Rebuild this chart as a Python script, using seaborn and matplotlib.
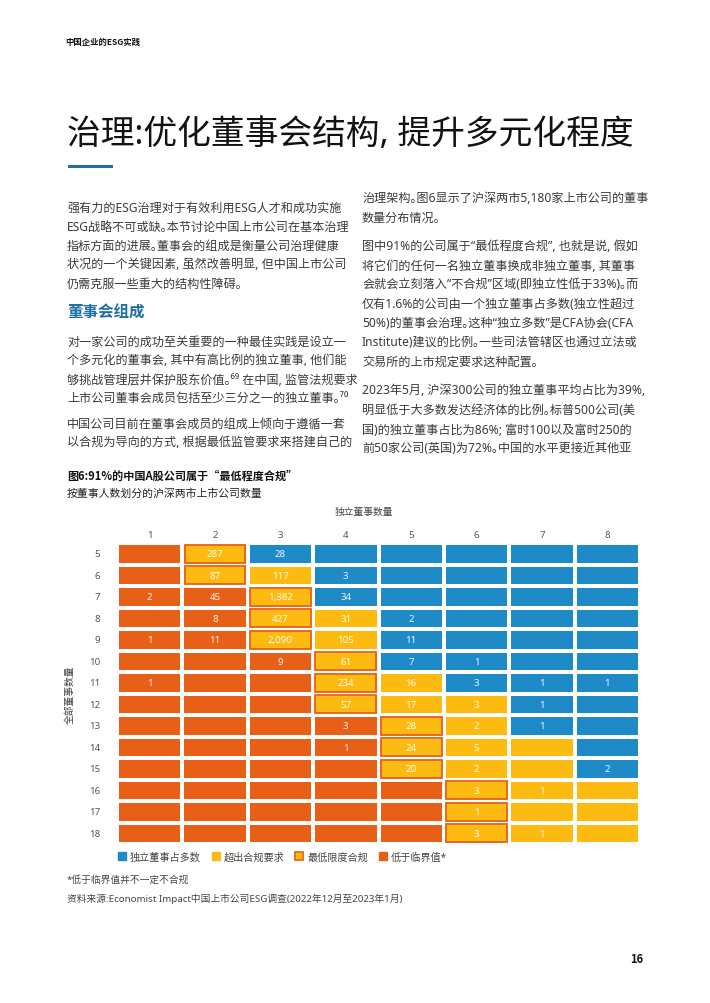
import numpy as np
import pandas as pd
import seaborn as sns
import matplotlib.pyplot as plt
from matplotlib.colors import ListedColormap
from matplotlib.patches import Patch, Rectangle

W, H = 710, 1004

# 独立董事数量 (columns) x 全部董事数量 (rows)
indep_cols = [1, 2, 3, 4, 5, 6, 7, 8]
board_rows = [5, 6, 7, 8, 9, 10, 11, 12, 13, 14, 15, 16, 17, 18]

# B = 独立董事占多数, Y = 超出合规要求, M = 最低限度合规, O = 低于临界值
zone_rows = [
    "OMBBBBBB",
    "OMYBBBBB",
    "OOMBBBBB",
    "OOMYBBBB",
    "OOMYBBBB",
    "OOOMBBBB",
    "OOOMYBBB",
    "OOOMYYBB",
    "OOOOMYBB",
    "OOOOMYYB",
    "OOOOMYYB",
    "OOOOOMYY",
    "OOOOOMYY",
    "OOOOOMYY",
]

count_rows = [
    [None, 287, 28, None, None, None, None, None],
    [None, 87, 117, 3, None, None, None, None],
    [2, 45, 1382, 34, None, None, None, None],
    [None, 8, 427, 31, 2, None, None, None],
    [1, 11, 2090, 105, 11, None, None, None],
    [None, None, 9, 61, 7, 1, None, None],
    [1, None, None, 234, 16, 3, 1, 1],
    [None, None, None, 57, 17, 3, 1, None],
    [None, None, None, 3, 28, 2, 1, None],
    [None, None, None, 1, 24, 5, None, None],
    [None, None, None, None, 20, 2, None, 2],
    [None, None, None, None, None, 3, 1, None],
    [None, None, None, None, None, 1, None, None],
    [None, None, None, None, None, 3, 1, None],
]

legend_labels = ["独立董事占多数", "超出合规要求", "最低限度合规", "低于临界值*"]

BLUE = "#1f8ac8"
YELLOW = "#fdbb12"
ORANGE = "#e85f18"
TEXT = "#3a3a3a"
# Latin, digits and curly quotes from Noto Sans, Chinese from Noto Sans CJK
FONT = ["Noto Sans", "Noto Sans CJK SC", "DejaVu Sans"]
# Noto Sans has no bold here, so bold text comes from the CJK family alone
BOLD = ["Noto Sans CJK SC", "DejaVu Sans"]

sns.set_theme(style="white")
plt.rcParams["font.family"] = FONT

code_map = {"B": 0, "Y": 1, "M": 2, "O": 3}
zones = pd.DataFrame([[code_map[c] for c in r] for r in zone_rows],
                     index=board_rows, columns=indep_cols)
annot = np.array([["" if v is None else f"{v:,}" for v in r] for r in count_rows])

fig = plt.figure(figsize=(W / 100, H / 100), dpi=100)

# the page sets punctuation at half width
NARROW = {"，": ", ", "；": "; ", "：": ":", "（": "(", "）": ")", "。": "｡"}


def narrow(s):
    return "".join(NARROW.get(ch, ch) for ch in s)


def put(x, y, s, **kw):
    kw.setdefault("color", TEXT)
    kw.setdefault("va", "center")
    if kw.get("fontweight") == "bold":
        kw.setdefault("family", BOLD)
    fig.text(x / W, 1 - y / H, narrow(s), **kw)


# page header and title
put(65, 42, "中国企业的ESG实践", fontsize=6, fontweight="bold", color="#111")
put(67, 135, "治理：优化董事会结构，提升多元化程度", fontsize=24.3, color="#111")
fig.add_artist(Rectangle((68 / W, 1 - 169 / H), 45 / W, 3 / H,
                         transform=fig.transFigure, color="#1f6ea6", lw=0))

body = 8.7
left_lines = [
    (208, "强有力的ESG治理对于有效利用ESG人才和成功实施"),
    (227, "ESG战略不可或缺。本节讨论中国上市公司在基本治理"),
    (246, "指标方面的进展。董事会的组成是衡量公司治理健康"),
    (265, "状况的一个关键因素，虽然改善明显，但中国上市公司"),
    (284, "仍需克服一些重大的结构性障碍。"),
    (342, "对一家公司的成功至关重要的一种最佳实践是设立一"),
    (361, "个多元化的董事会，其中有高比例的独立董事，他们能"),
    (380, "够挑战管理层并保护股东价值。⁶⁹ 在中国，监管法规要求"),
    (399, "上市公司董事会成员包括至少三分之一的独立董事。⁷⁰"),
    (424, "中国公司目前在董事会成员的组成上倾向于遵循一套"),
    (443, "以合规为导向的方式，根据最低监管要求来搭建自己的"),
]
for y, s in left_lines:
    put(67, y, s, fontsize=body)
put(67, 313, "董事会组成", fontsize=11.2, fontweight="bold", color="#1f6ea6")

right_lines = [
    (199, "治理架构。图6显示了沪深两市5,180家上市公司的董事"),
    (218, "数量分布情况。"),
    (247, "图中91%的公司属于“最低程度合规”，也就是说，假如"),
    (266, "将它们的任何一名独立董事换成非独立董事，其董事"),
    (285, "会就会立刻落入“不合规”区域（即独立性低于33%）。而"),
    (305, "仅有1.6%的公司由一个独立董事占多数（独立性超过"),
    (324, "50%）的董事会治理。这种“独立多数”是CFA协会（CFA"),
    (343, "Institute）建议的比例。一些司法管辖区也通过立法或"),
    (362, "交易所的上市规定要求这种配置。"),
    (391, "2023年5月，沪深300公司的独立董事平均占比为39%，"),
    (410, "明显低于大多数发达经济体的比例。标普500公司（美"),
    (430, "国）的独立董事占比为86%；富时100以及富时250的"),
    (449, "前50家公司（英国）为72%。中国的水平更接近其他亚"),
]
for y, s in right_lines:
    put(362, y, s, fontsize=body)

# chart caption
put(67, 476, "图6：91%的中国A股公司属于“最低程度合规”", fontsize=8, color="#111",
    fontweight="bold")
put(67, 494, "按董事人数划分的沪深两市上市公司数量", fontsize=7.8, color="#222")

# heatmap
ax = fig.add_axes([117 / W, 1 - 845 / H, 523 / W, 301 / H])
cmap = ListedColormap([BLUE, YELLOW, YELLOW, ORANGE])
sns.heatmap(zones, ax=ax, cmap=cmap, vmin=-0.5, vmax=3.5, cbar=False,
            annot=annot, fmt="", linewidths=1.5, linecolor="white",
            annot_kws={"fontsize": 7, "color": "white", "alpha": 0.92})

for i, r in enumerate(zone_rows):
    for j, c in enumerate(r):
        if c == "M":
            ax.add_patch(Rectangle((j + 0.035, i + 0.075), 0.93, 0.85,
                                   fill=False, edgecolor=ORANGE, lw=1.3))

ax.xaxis.tick_top()
ax.xaxis.set_label_position("top")
ax.tick_params(length=0, labelsize=7, colors="#555")
ax.tick_params(axis="x", pad=3)
ax.tick_params(axis="y", pad=12)
ax.set_yticklabels(board_rows, rotation=0)
ax.set_xlabel("独立董事数量", fontsize=7, color="#444")
ax.xaxis.set_label_coords(0.472, (845 - 512) / 301)
ax.xaxis.label.set_va("center")
ax.set_ylabel("全部董事数量", fontsize=7, color="#444")
ax.yaxis.set_label_coords((70 - 117) / 523, 0.5)
ax.yaxis.label.set_va("center")

handles = [
    Patch(facecolor=BLUE, edgecolor=BLUE),
    Patch(facecolor=YELLOW, edgecolor=YELLOW),
    Patch(facecolor=YELLOW, edgecolor=ORANGE, lw=1.2),
    Patch(facecolor=ORANGE, edgecolor=ORANGE),
]
fig.legend(handles, legend_labels, loc="center left",
           bbox_to_anchor=(109 / W, 1 - 858 / H), ncol=4, frameon=False,
           fontsize=7.3, handlelength=0.8, handleheight=0.8, handletextpad=0.35,
           columnspacing=1.1, labelcolor="#444")

put(67, 880, "*低于临界值并不一定不合规", fontsize=7, color="#444")
put(67, 899, "资料来源：Economist Impact中国上市公司ESG调查（2022年12月至2023年1月）",
    fontsize=7, color="#444")
put(630, 960, "16", fontsize=8, fontweight="bold", color="#111")

fig.savefig("out.png", dpi=100)
